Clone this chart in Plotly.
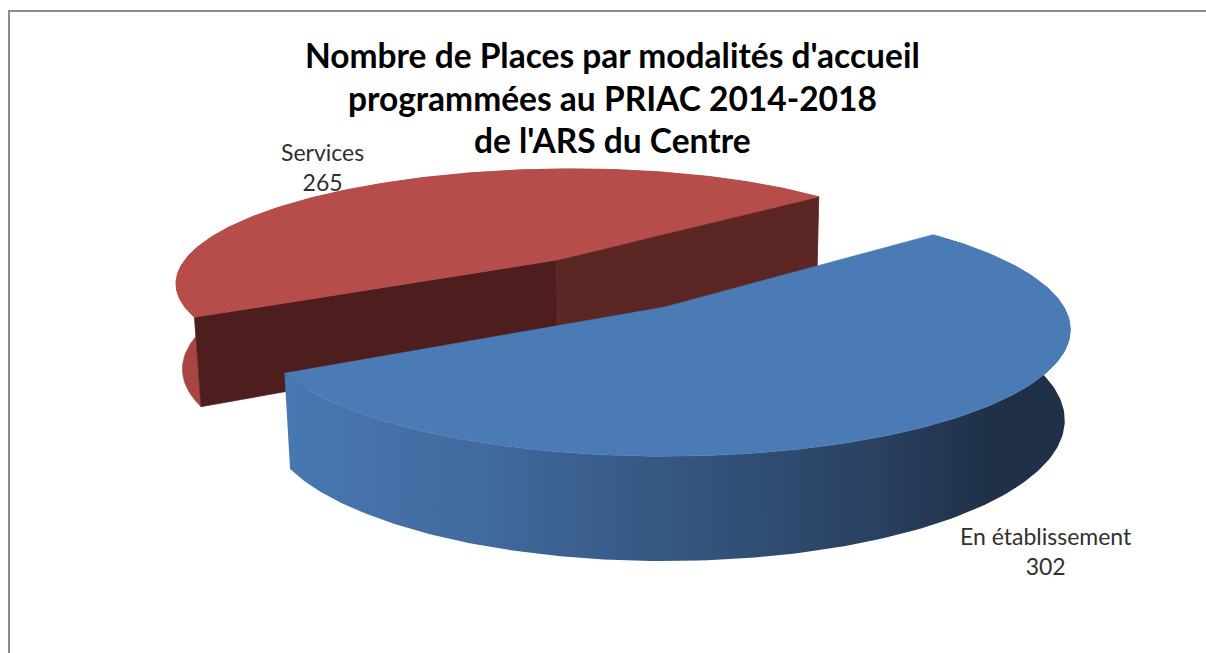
import numpy as np
import plotly.graph_objects as go

# ---------------- data ----------------
labels = ["En établissement", "Services"]
values = [302, 265]
title_lines = ["Nombre de Places par modalités d'accueil",
               "programmées au PRIAC 2014-2018",
               "de l'ARS du Centre"]

# ---------------- style ----------------
top_colors = ["#4A7BB5", "#B64D4A"]
wall_colors = [None, "#A84542"]
wall_gradient = [[0.0, "#4878B2"], [0.25, "#416A9E"], [0.5, "#34567F"],
                 [0.75, "#2A4161"], [0.9, "#1F3048"], [1.0, "#1F3048"]]
face_start_colors = ["#2E4A6E", "#4E1E1F"]
face_end_colors = ["#2E4A6E", "#5C2625"]
explode = [0.0, 0.5]
label_pos = [(1046, 551), (322, 167)]

# projection parameters (pixels)
CX, CY = 665, 307
ALPHA = np.radians(17.9)
DIST = 5.28
FOC = 2123
RAD = 0.992
THICK = 0.234
START = np.radians(-41.3)
sa, ca = np.sin(ALPHA), np.cos(ALPHA)
CAM = np.array([0.0, DIST * sa, DIST * ca])


def proj(X, Y, Z):
    X, Y, Z = np.asarray(X, float), np.asarray(Y, float), np.asarray(Z, float)
    depth = DIST - (Y * sa + Z * ca)
    return CX + FOC * X / depth, CY + FOC * (Z * sa - Y * ca) / depth


fig = go.Figure()

total = sum(values)
angles = [START]
for v in values:
    angles.append(angles[-1] + 2 * np.pi * v / total)

# draw order: farther slice first
order = sorted(range(len(values)),
               key=lambda i: np.sin((angles[i] + angles[i + 1]) / 2))

for i in order:
    a0, a1 = angles[i], angles[i + 1]
    mid = (a0 + a1) / 2
    ox, oz = explode[i] * np.cos(mid), explode[i] * np.sin(mid)
    t = np.linspace(a0, a1, 200)
    rx, rz = ox + RAD * np.cos(t), oz + RAD * np.sin(t)

    # outer wall
    tx, ty = proj(rx, 0 * rx, rz)
    bx, by = proj(rx, -THICK + 0 * rx, rz)
    wx = np.concatenate([tx, bx[::-1], tx[:1]])
    wy = np.concatenate([ty, by[::-1], ty[:1]])
    if wall_colors[i] is None:
        fig.add_trace(go.Scatter(x=wx, y=wy, mode="lines", fill="toself",
                                 line=dict(width=0), fillgradient=dict(
                                     type="horizontal", colorscale=wall_gradient),
                                 hoverinfo="skip", showlegend=False))
    else:
        fig.add_trace(go.Scatter(x=wx, y=wy, mode="lines", fill="toself",
                                 line=dict(width=0.6, color=wall_colors[i]),
                                 fillcolor=wall_colors[i],
                                 hoverinfo="skip", showlegend=False))

    # cut faces
    for a, col, sgn in ((a0, face_start_colors[i], 1), (a1, face_end_colors[i], -1)):
        n = np.array([sgn * np.sin(a), 0.0, -sgn * np.cos(a)])
        p = np.array([ox, 0.0, oz])
        if n.dot(CAM - p) <= 0:
            continue
        ex, ez = ox + RAD * np.cos(a), oz + RAD * np.sin(a)
        fx, fy = proj([ox, ex, ex, ox, ox], [0, 0, -THICK, -THICK, 0],
                      [oz, ez, ez, oz, oz])
        fig.add_trace(go.Scatter(x=fx, y=fy, mode="lines", fill="toself",
                                 line=dict(width=0.6, color=col), fillcolor=col,
                                 hoverinfo="skip", showlegend=False))

    # top face
    px_, py_ = proj(np.concatenate([[ox], rx, [ox]]), np.zeros(len(rx) + 2),
                    np.concatenate([[oz], rz, [oz]]))
    fig.add_trace(go.Scatter(x=px_, y=py_, mode="lines", fill="toself",
                             line=dict(width=0.6, color=top_colors[i]),
                             fillcolor=top_colors[i], name=labels[i],
                             hoverinfo="name", showlegend=False))

annotations = []
for i, (lx, ly) in enumerate(label_pos):
    annotations.append(dict(x=lx, y=ly, xref="x", yref="y", showarrow=False,
                            text=f"{labels[i]}<br>{values[i]}",
                            font=dict(family="Lato, Carlito, sans-serif", size=23,
                                      color="#303030"),
                            align="center"))
for k, line in enumerate(title_lines):
    annotations.append(dict(x=612, y=55 + 42.5 * k, xref="x", yref="y",
                            showarrow=False, text=f"<b>{line}</b>",
                            font=dict(family="Lato, Carlito, sans-serif", size=33.5,
                                      color="#000000")))

fig.update_layout(
    width=1206, height=653,
    margin=dict(l=0, r=0, t=0, b=0),
    paper_bgcolor="white", plot_bgcolor="white",
    xaxis=dict(range=[0, 1206], visible=False, fixedrange=True),
    yaxis=dict(range=[653, 0], visible=False, fixedrange=True),
    annotations=annotations,
    shapes=[dict(type="rect", xref="x", yref="y", x0=9, y0=11, x1=1230, y1=680,
                 line=dict(color="#8C8C8C", width=2), fillcolor="rgba(0,0,0,0)",
                 layer="below")],
    showlegend=False,
)

fig.write_html("out.html", config={"displayModeBar": False},
               post_script="document.body.style.margin='0';")
